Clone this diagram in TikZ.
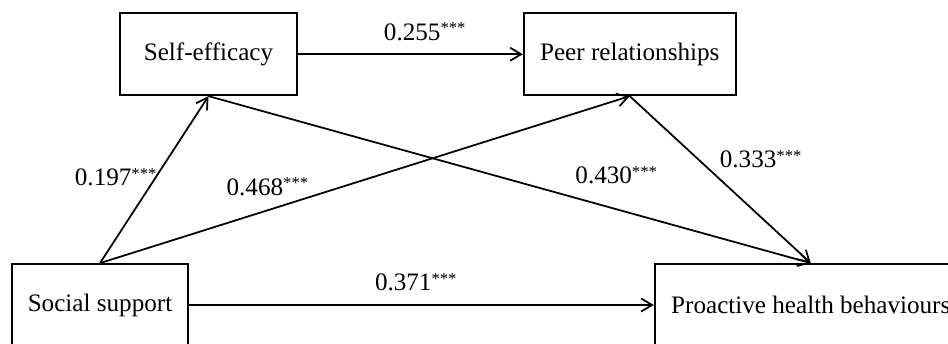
\documentclass[tikz,border=0pt]{standalone}
\usepackage{fontspec}
\setmainfont{Liberation Serif}
\usetikzlibrary{positioning}
\usetikzlibrary{arrows.meta}

% asterischi di significativita
\newcommand{\sig}{\raisebox{0.26em}{\fontsize{9.5}{10}\selectfont ***}}

\begin{document}
\begin{tikzpicture}[
    box/.style={draw, line width=1pt, minimum height=1.64cm, inner sep=0pt},
    coef/.style={inner sep=0pt},
    link/.style={draw, line width=1pt, -{Straight Barb[length=2.2mm,width=2.6mm]}},
    font=\fontsize{14.3}{17}\selectfont]
    % Cornice della figura
    \clip (0,0) rectangle (18.96,-6.86);

    % Nodi principali
    \node [box, minimum width=3.52cm] (soc) at (2.0,-6.1) {Social support};
    \node [box, minimum width=6.24cm, right=9.3cm of soc] (beh) {Proactive health behaviours};

    % Mediatori (posizionati sopra)
    \node [box, minimum width=3.54cm, above=3.34cm of soc, xshift=2.17cm] (eff) {Self-efficacy};
    \node [box, minimum width=4.24cm, right=4.5cm of eff] (peer) {Peer relationships};

    % Percorsi con i coefficienti
    \draw [link] (soc.north) -- node [coef, pos=0.515, left=-0.03cm] {0.197\sig} (eff.south);
    \draw [link] (soc.north) -- node [coef, pos=0.316, above=0.28cm] {0.468\sig} (peer.south);
    \draw [link] (eff.south) -- node [coef, pos=0.677, above=0.48cm] {0.430\sig} (beh.north);
    \draw [link] (peer.south) -- node [coef, pos=0.377, right=0.42cm] {0.333\sig} (beh.north);
    \draw [link] (eff) -- node [coef, pos=0.564, above=0.26cm] {0.255\sig} (peer);
    \draw [link] (soc) -- node [coef, pos=0.488, above=0.26cm] {0.371\sig} (beh);
\end{tikzpicture}
\end{document}
